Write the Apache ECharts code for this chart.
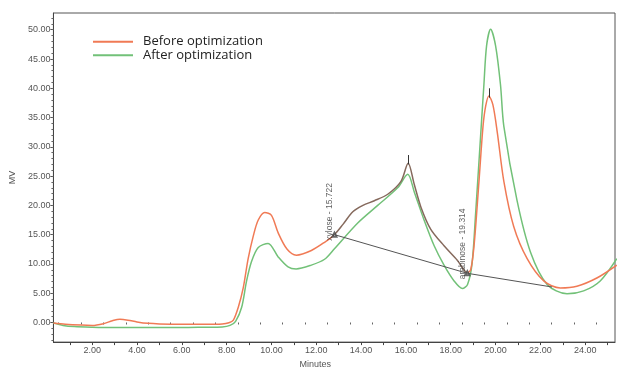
<!DOCTYPE html>
<html>
<head>
<meta charset="utf-8">
<script src="https://cdn.jsdelivr.net/npm/echarts@6/dist/echarts.min.js"></script>
<style>
html,body{margin:0;padding:0;background:#fff;}
#c{width:618px;height:374px;}
</style>
</head>
<body>
<div id="c"></div>
<script>
// ---- data ----
const beforeTime  = [0.27,0.8,1.5,2.0,2.5,2.9,3.24,3.6,4.0,4.5,5.0,6.0,7.0,7.8,8.1,8.3,8.52,8.74,8.96,9.19,9.41,9.70,10.0,10.3,10.7,11.11,11.78,12.37,12.81,13.2,13.63,14.08,14.59,15.19,15.78,16.10,16.37,16.67,17.11,17.70,18.30,18.74,18.89,19.04,19.26,19.44,19.56,19.70,19.88,20.08,20.37,20.81,21.41,22.15,22.89,23.63,24.52,25.41];
const beforeValue = [-0.1,-0.3,-0.45,-0.5,-0.2,0.3,0.55,0.4,0.1,-0.15,-0.25,-0.3,-0.3,-0.25,-0.05,0.4,2.6,5.9,10.9,14.8,17.5,18.8,18.3,15.3,12.5,11.5,12.3,13.7,15.0,16.8,18.9,20.0,20.8,21.9,24.1,27.2,23.6,19.7,15.9,13.1,10.6,8.5,9.0,13.1,24.1,33.5,37.0,38.7,37.2,32.4,24.1,16.4,10.9,7.1,5.9,6.2,7.6,9.8];
const afterTime   = [0.27,0.7,1.2,2.0,3.0,4.0,5.0,6.0,7.0,7.8,8.15,8.4,8.67,8.89,9.11,9.41,9.85,10.3,10.74,11.1,11.78,12.37,12.81,13.85,14.74,15.63,16.08,16.38,16.81,17.26,17.70,18.15,18.52,18.75,18.95,19.11,19.36,19.48,19.6,19.78,20.0,20.22,20.37,20.96,21.56,22.30,23.19,23.93,24.67,25.41];
const afterValue  = [-0.1,-0.5,-0.7,-0.8,-0.85,-0.85,-0.85,-0.85,-0.8,-0.75,-0.5,0.2,2.6,7.1,10.4,12.8,13.5,11.2,9.5,9.15,9.8,10.8,12.6,17.0,20.0,23.0,25.3,22.2,17.5,13.1,9.8,7.1,5.8,6.5,10.0,18.6,33.5,40.6,47.3,50.1,47.3,40.6,33.5,20.8,12.0,6.5,4.9,5.4,7.1,10.9];
const peakTime    = [12.81, 18.74];
const peakValue   = [15.0, 8.4];
const peakLabels  = ['xylose - 15.722', 'arabinose - 19.314'];
const baselineTime  = [12.81, 18.74, 22.52];
const baselineValue = [15.0, 8.4, 6.06];
const apexTime = [16.10, 19.70];
const apexLow  = [27.0, 38.4];
const apexHigh = [28.6, 40.0];
const xLabels = [2,4,6,8,10,12,14,16,18,20,22,24];
const yLabels = [0,5,10,15,20,25,30,35,40,45,50];
const seriesNames = ['Before optimization','After optimization'];

const xMin = 0.27, xMax = 25.33, yMin = -3.35, yMax = 52.86;
const RED = '#f07a55', GREEN = '#72c178', BROWN = '#85695c';
const F = '"Liberation Sans", Arial, sans-serif';

const xMajorTicks = []; for (let i = 1; i <= 25; i++) xMajorTicks.push(i);
const xMinorTicks = []; for (let i = 0.5; i <= 25.3; i += 1) xMinorTicks.push(i);
const yMinorTicks = []; for (let i = -3; i <= 52; i++) yMinorTicks.push(i);

const zip = (a, b) => a.map((v, i) => [v, b[i]]);

const chart = echarts.init(document.getElementById('c'), null, {renderer: 'canvas'});
chart.setOption({
  animation: false,
  backgroundColor: '#fff',
  grid: {left: 51, right: 3, top: 13, bottom: 21, show: true, borderColor: '#555', borderWidth: 1, backgroundColor: 'transparent'},
  legend: {
    orient: 'vertical', left: 93, top: 35, padding: 0, itemGap: 0,
    itemWidth: 40, itemHeight: 2, icon: 'rect',
    textStyle: {fontFamily: '"Open Sans", sans-serif', fontSize: 13, color: '#222', lineHeight: 13.5, padding: [0, 0, 0, 5]},
    data: [
      {name: seriesNames[0], itemStyle: {color: RED}},
      {name: seriesNames[1], itemStyle: {color: GREEN}}
    ]
  },
  visualMap: {
    show: false, type: 'piecewise', seriesIndex: 0, dimension: 0,
    pieces: [
      {lt: peakTime[0], color: RED},
      {gte: peakTime[0], lte: peakTime[1], color: BROWN},
      {gt: peakTime[1], color: RED}
    ]
  },
  xAxis: [{
    type: 'value', min: xMin, max: xMax,
    name: 'Minutes', nameLocation: 'middle', nameGap: 10,
    nameTextStyle: {fontFamily: F, fontSize: 9, color: '#555', padding: [0, 38, 0, 0]},
    axisLine: {show: true, onZero: false, lineStyle: {color: '#444'}},
    axisTick: {show: true, length: 3, customValues: xMajorTicks, lineStyle: {color: '#444'}},
    axisLabel: {customValues: xLabels, formatter: v => v.toFixed(2), fontFamily: F, fontSize: 9, color: '#555', margin: 4},
    splitLine: {show: false}
  }, {
    type: 'value', min: xMin, max: xMax, position: 'bottom',
    axisLine: {show: false},
    axisTick: {show: true, length: 2, customValues: xMinorTicks, lineStyle: {color: '#666'}},
    axisLabel: {show: false}, splitLine: {show: false}
  }],
  yAxis: [{
    type: 'value', min: yMin, max: yMax,
    name: 'MV', nameLocation: 'middle', nameGap: 29,
    nameTextStyle: {fontFamily: F, fontSize: 9, color: '#555'},
    axisLine: {show: true, onZero: false, lineStyle: {color: '#444'}},
    axisTick: {show: true, length: 3, customValues: yLabels, lineStyle: {color: '#444'}},
    axisLabel: {customValues: yLabels, formatter: v => v.toFixed(2), fontFamily: F, fontSize: 9, color: '#555', margin: 3},
    splitLine: {show: false}
  }, {
    type: 'value', min: yMin, max: yMax, position: 'left',
    axisLine: {show: false},
    axisTick: {show: true, length: 2, customValues: yMinorTicks, lineStyle: {color: '#666'}},
    axisLabel: {show: false}, splitLine: {show: false}
  }],
  series: [{
    name: seriesNames[0], type: 'line', smooth: 0.3, showSymbol: false,
    color: RED, lineStyle: {width: 1.5}, z: 3,
    data: zip(beforeTime, beforeValue),
    markLine: {
      silent: true, symbol: ['none', 'none'], label: {show: false},
      lineStyle: {color: '#333', width: 1, type: 'solid'},
      data: apexTime.map((t, i) => [{coord: [t, apexLow[i]]}, {coord: [t, apexHigh[i]]}])
    }
  }, {
    name: seriesNames[1], type: 'line', smooth: 0.3, showSymbol: false,
    color: GREEN, lineStyle: {width: 1.5}, z: 2,
    data: zip(afterTime, afterValue)
  }, {
    name: 'baseline', type: 'line', showSymbol: false, smooth: false,
    lineStyle: {color: '#555', width: 1}, z: 4, silent: true,
    data: zip(baselineTime, baselineValue)
  }, {
    name: 'peaks', type: 'scatter', symbol: 'emptyTriangle', symbolSize: 4,
    itemStyle: {color: '#444'}, z: 5, silent: true,
    data: peakTime.map((t, i) => ({value: [t, peakValue[i]], label: {formatter: peakLabels[i]}})),
    label: {
      show: true, position: 'inside', rotate: 90, align: 'left', verticalAlign: 'middle',
      offset: [-6, -5], fontFamily: F, fontSize: 8.5, color: '#3a3a3a'
    }
  }]
});
</script>
</body>
</html>
